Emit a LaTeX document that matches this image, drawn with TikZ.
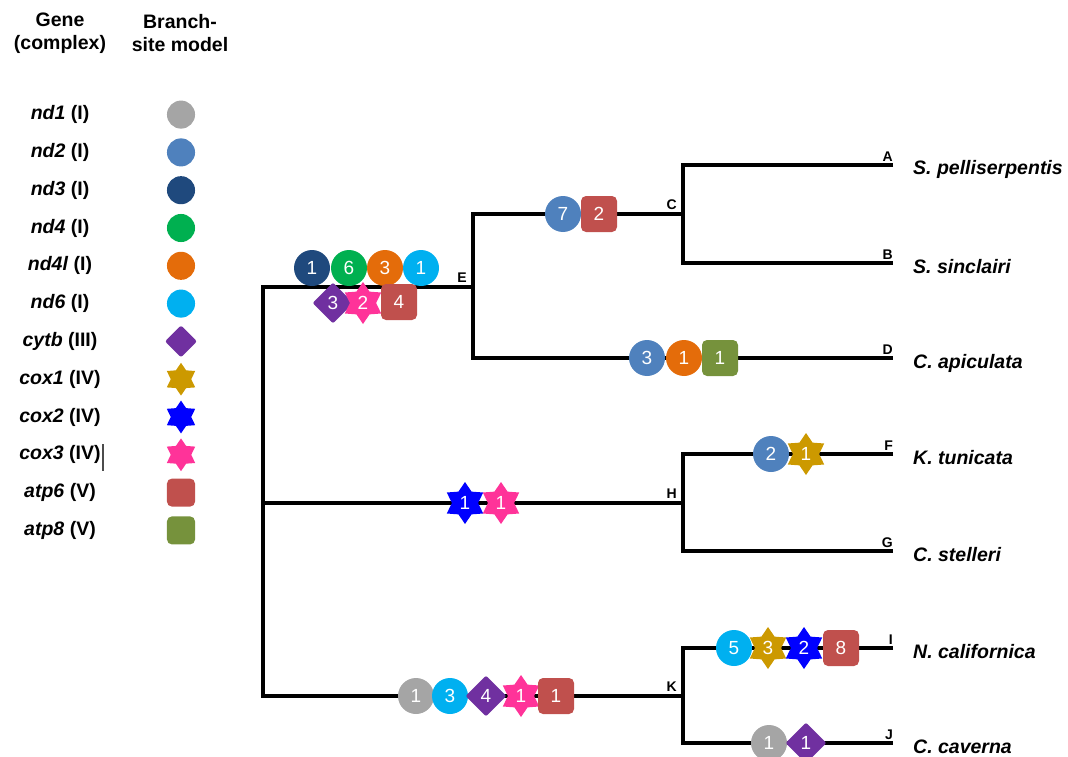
\documentclass[tikz,border=0pt]{standalone}
\usepackage{fontspec}
\setmainfont{Liberation Sans}
\usetikzlibrary{shapes.geometric,positioning}
\definecolor{cNDa}{RGB}{165,165,165}
\definecolor{cNDb}{RGB}{79,129,189}
\definecolor{cNDc}{RGB}{31,73,125}
\definecolor{cNDd}{RGB}{0,176,80}
\definecolor{cNDl}{RGB}{228,108,10}
\definecolor{cNDf}{RGB}{0,176,240}
\definecolor{cCYTB}{RGB}{112,48,160}
\definecolor{cCOXa}{RGB}{204,153,0}
\definecolor{cCOXb}{RGB}{0,0,255}
\definecolor{cCOXc}{RGB}{255,51,153}
\definecolor{cATPa}{RGB}{192,80,77}
\definecolor{cATPb}{RGB}{118,146,60}
\tikzset{
  branch/.style={line width=3.2pt, black},
  gmark/.style={inner sep=0pt, text=white, font=\fontsize{19}{19}\selectfont},
  gcirc/.style={gmark, circle, minimum size=36pt},
  gdiam/.style={gmark, diamond, aspect=1, minimum size=41pt, rounded corners=2pt},
  gstar/.style={gmark, star, star points=6, star point ratio=1.6, minimum size=42pt},
  gsq/.style={gmark, rectangle, rounded corners=5pt, minimum size=36pt},
  nd1/.style={gcirc, fill=cNDa},
  nd2/.style={gcirc, fill=cNDb},
  nd3/.style={gcirc, fill=cNDc},
  nd4/.style={gcirc, fill=cNDd},
  nd4l/.style={gcirc, fill=cNDl},
  nd6/.style={gcirc, fill=cNDf},
  cytb/.style={gdiam, fill=cCYTB},
  cox1/.style={gstar, fill=cCOXa},
  cox2/.style={gstar, fill=cCOXb},
  cox3/.style={gstar, fill=cCOXc},
  atp6/.style={gsq, fill=cATPa},
  atp8/.style={gsq, fill=cATPb},
  tiplab/.style={font=\bfseries\fontsize{14}{14}\selectfont, anchor=base east, inner sep=0pt},
  species/.style={font=\bfseries\itshape\fontsize{19.5}{19.5}\selectfont, anchor=base west, inner sep=0pt},
  legtext/.style={font=\bfseries\fontsize{19.5}{23}\selectfont, align=center, inner sep=0pt},
}

\begin{document}
\begin{tikzpicture}[x=1pt, y=-1pt]
    \useasboundingbox (0,0) rectangle (1068,757);
    % --- legend ---
    \node[legtext] (hgene) at (60,33) {Gene\\(complex)};
    \node[legtext] (hmodel) at (180,33) {Branch-\\site model};
    \foreach \g/\cx [count=\i from 0] in {nd1/I, nd2/I, nd3/I, nd4/I, nd4l/I, nd6/I,
        cytb/III, cox1/IV, cox2/IV, cox3/IV, atp6/V, atp8/V} {
      \node[legtext] (lt\i) at (60,114.6+37.8*\i) {\textit{\g} (\cx)};
      \node[\g, scale=0.78] (ls\i) at (181,114.6+37.8*\i) {};
    }
    \draw[line width=1.3pt, black!70] (103,444) -- (103,471);
    % --- tree ---
    \coordinate (root) at (263,503);
    \coordinate (E) at (473,287);
    \coordinate (C) at (683,214);
    \coordinate (H) at (683,503);
    \coordinate (K) at (683,696);
    \coordinate (A) at (893,165);
    \coordinate (B) at (893,263);
    \coordinate (D) at (893,358);
    \coordinate (F) at (893,454);
    \coordinate (G) at (893,551);
    \coordinate (I) at (893,648);
    \coordinate (J) at (893,743);
    \draw[branch] (A) -| (C) |- (B);
    \draw[branch] (C) -| (E) |- (D);
    \draw[branch] (F) -| (H) |- (G);
    \draw[branch] (I) -| (K) |- (J);
    \draw[branch] (E) -| (root) |- (K);
    \draw[branch] (root) -- (H);
    % internal and tip letters
    \foreach \n in {E,C,H,K}
      \node[tiplab] (l\n) at ([xshift=-6pt, yshift=5pt]\n) {\n};
    \foreach \n in {A,B,D,F,G,I,J}
      \node[tiplab] (l\n) at ([yshift=4pt]\n) {\n};
    % species
    \node[species] (sA) at ([xshift=20pt, yshift=-10pt]A) {S. pelliserpentis};
    \node[species] (sB) at ([xshift=20pt, yshift=-10pt]B) {S. sinclairi};
    \node[species] (sD) at ([xshift=20pt, yshift=-10pt]D) {C. apiculata};
    \node[species] (sF) at ([xshift=20pt, yshift=-10pt]F) {K. tunicata};
    \node[species] (sG) at ([xshift=20pt, yshift=-10pt]G) {C. stelleri};
    \node[species] (sI) at ([xshift=20pt, yshift=-10pt]I) {N. californica};
    \node[species] (sJ) at ([xshift=20pt, yshift=-10pt]J) {C. caverna};
    % --- branch-site markers ---
    \node[nd3] (mE1) at (312,268) {1};
    \node[nd4] (mE2) at (349,268) {6};
    \node[nd4l] (mE3) at (385,268) {3};
    \node[nd6] (mE4) at (421,268) {1};
    \node[cytb] (mE5) at (333,303) {3};
    \node[cox3] (mE6) at (363,303) {2};
    \node[atp6] (mE7) at (399,302) {4};
    \node[nd2] (mC1) at (563,214) {7};
    \node[atp6] (mC2) at (599,214) {2};
    \node[nd2] (mD1) at (647,358) {3};
    \node[nd4l] (mD2) at (684,358) {1};
    \node[atp8] (mD3) at (720,358) {1};
    \node[cox2] (mH1) at (465,503) {1};
    \node[cox3] (mH2) at (501,503) {1};
    \node[nd2] (mF1) at (771,454) {2};
    \node[cox1] (mF2) at (806,454) {1};
    \node[nd1] (mK1) at (416,696) {1};
    \node[nd6] (mK2) at (450,696) {3};
    \node[cytb] (mK3) at (486,696) {4};
    \node[cox3] (mK4) at (521,696) {1};
    \node[atp6] (mK5) at (556,696) {1};
    \node[nd6] (mI1) at (734,648) {5};
    \node[cox1] (mI2) at (768,648) {3};
    \node[cox2] (mI3) at (804,648) {2};
    \node[atp6] (mI4) at (841,648) {8};
    \node[nd1] (mJ1) at (769,743) {1};
    \node[cytb] (mJ2) at (806,743) {1};
\end{tikzpicture}
\end{document}
